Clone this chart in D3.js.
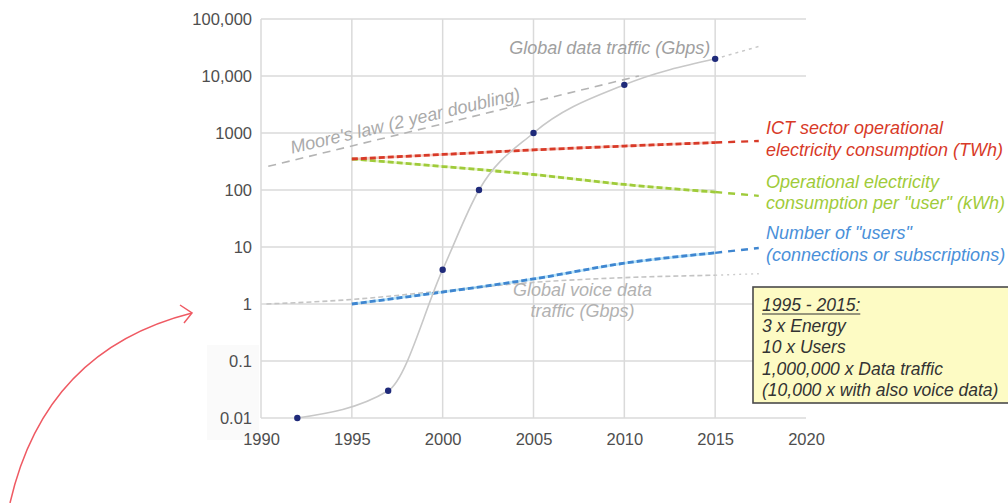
<!DOCTYPE html>
<html>
<head>
<meta charset="utf-8">
<script src="https://cdn.jsdelivr.net/npm/d3@7/dist/d3.min.js"></script>
<style>
  html, body { margin: 0; padding: 0; background: #fff; }
  svg { display: block; }
  text { font-family: "Liberation Sans", Arial, sans-serif; }
</style>
</head>
<body>
<svg id="chart" width="1008" height="503"></svg>
<script>
// ---- data ----
const xTicks = [1990, 1995, 2000, 2005, 2010, 2015, 2020];
const yTicks = [0.01, 0.1, 1, 10, 100, 1000, 10000, 100000];
const yTickLabels = ["0.01", "0.1", "1", "10", "100", "1000", "10,000", "100,000"];

// Global data traffic (Gbps)
const trafficYears = [1992, 1997, 2000, 2002, 2005, 2010, 2015];
const trafficValues = [0.01, 0.03, 4, 100, 1000, 7000, 20000];
const trafficExtYears = [2015, 2017.4];
const trafficExtValues = [20000, 33000];

// Moore's law reference line
const mooreYears = [1990.4, 2010.8];
const mooreValues = [260, 10000];

// Trend series 1995-2015 plus their projections
const trendYears = [1995, 2000, 2005, 2010, 2015];
const extYears = [2015, 2017.4];
const ictEnergy = [350, 420, 505, 590, 680];
const ictEnergyExt = [680, 725];
const energyPerUser = [350, 258, 187, 125, 92];
const energyPerUserExt = [92, 79];
const users = [1.0, 1.62, 2.75, 5.2, 7.9];
const usersExt = [7.9, 9.6];

// Global voice data traffic (Gbps)
const voiceYears = [1990.3, 1995, 2000, 2005, 2010, 2015];
const voiceValues = [1.0, 1.2, 1.7, 2.4, 2.9, 3.2];
const voiceExtValues = [3.2, 3.4];

const summaryLines = ["3 x Energy", "10 x Users", "1,000,000 x Data traffic", "(10,000 x with also voice data)"];

// ---- scales ----
const svg = d3.select("#chart");
const x = d3.scaleLinear().domain([1990, 2020]).range([261, 806]);
const y = d3.scaleLog().domain([0.01, 100000]).range([418, 19]);

const zip = (xs, ys) => xs.map((v, i) => [v, ys[i]]);
const line = d3.line().x(d => x(d[0])).y(d => y(d[1]));

// faint panel behind the lower tick labels
svg.append("rect").attr("x", 207).attr("y", 345).attr("width", 52).attr("height", 95)
  .attr("fill", "#fafafa");

// ---- grid ----
const grid = svg.append("g").attr("stroke", "#dadada").attr("stroke-width", 1.5);
grid.selectAll("line.h").data(yTicks).join("line")
  .attr("x1", x(1990)).attr("x2", x(2020))
  .attr("y1", d => y(d)).attr("y2", d => y(d));
grid.selectAll("line.v").data(xTicks.slice(0, -1)).join("line")
  .attr("x1", d => x(d)).attr("x2", d => x(d))
  .attr("y1", y(100000)).attr("y2", y(0.01));

// white backing for the series labels on the right
svg.append("rect")
  .attr("x", x(2015) + 1).attr("y", 105)
  .attr("width", x(2020) - x(2015) + 4).attr("height", 167)
  .attr("fill", "#fff");

// ---- axes ----
const yAxis = d3.axisLeft(y).tickValues(yTicks)
  .tickFormat((d, i) => yTickLabels[i]).tickSize(0).tickPadding(9);
const gy = svg.append("g").attr("transform", `translate(${x(1990)},0)`).call(yAxis);
const xAxis = d3.axisBottom(x).tickValues(xTicks).tickFormat(d3.format("d")).tickSize(0).tickPadding(15);
const gx = svg.append("g").attr("transform", `translate(0,${y(0.01)})`).call(xAxis);
[gx, gy].forEach(g => {
  g.select(".domain").remove();
  g.selectAll("text").attr("font-size", 16.5).attr("fill", "#4e4e4e")
    .attr("font-family", "'Liberation Sans', Arial, sans-serif");
});

// ---- series ----
// Moore's law
svg.append("path").datum(zip(mooreYears, mooreValues)).attr("d", line)
  .attr("fill", "none").attr("stroke", "#b4b4b4").attr("stroke-width", 1.6)
  .attr("stroke-dasharray", "8,6");

// voice traffic
svg.append("path").datum(zip(voiceYears, voiceValues))
  .attr("d", line.curve(d3.curveMonotoneX))
  .attr("fill", "none").attr("stroke", "#c4c4c4").attr("stroke-width", 1.6)
  .attr("stroke-dasharray", "5,3");
line.curve(d3.curveLinear);
svg.append("path").datum(zip(extYears, voiceExtValues)).attr("d", line)
  .attr("fill", "none").attr("stroke", "#cccccc").attr("stroke-width", 1.4)
  .attr("stroke-dasharray", "2,4");

// trend series
function trend(values, ext, dark, light) {
  const pts = zip(trendYears, values);
  const l = d3.line().x(d => x(d[0])).y(d => y(d[1])).curve(d3.curveMonotoneX);
  svg.append("path").datum(pts).attr("d", l)
    .attr("fill", "none").attr("stroke", light).attr("stroke-width", 2.6).attr("opacity", 0.55);
  svg.append("path").datum(pts).attr("d", l)
    .attr("fill", "none").attr("stroke", dark).attr("stroke-width", 2.8)
    .attr("stroke-dasharray", "6,3");
  svg.append("path").datum(zip(extYears, ext)).attr("d", line)
    .attr("fill", "none").attr("stroke", dark).attr("stroke-width", 2.4)
    .attr("stroke-dasharray", "7,6");
}
trend(energyPerUser, energyPerUserExt, "#9fcb3a", "#d6ea9a");
trend(ictEnergy, ictEnergyExt, "#d83a28", "#f0a090");
trend(users, usersExt, "#3f86d0", "#7fd0f5");

// data traffic curve + projection
svg.append("path").datum(zip(trafficYears, trafficValues))
  .attr("d", d3.line().x(d => x(d[0])).y(d => y(d[1])).curve(d3.curveMonotoneX))
  .attr("fill", "none").attr("stroke", "#c8c8c8").attr("stroke-width", 1.6);
svg.append("path").datum(zip(trafficExtYears, trafficExtValues)).attr("d", line)
  .attr("fill", "none").attr("stroke", "#c8c8c8").attr("stroke-width", 1.5)
  .attr("stroke-dasharray", "3,4");
svg.selectAll("circle.pt").data(zip(trafficYears, trafficValues)).join("circle")
  .attr("cx", d => x(d[0])).attr("cy", d => y(d[1])).attr("r", 3.2)
  .attr("fill", "#1f2a7a");

// ---- labels ----
const label = (tx, ty, str, color, anchor) => svg.append("text")
  .attr("x", tx).attr("y", ty).text(str)
  .attr("font-size", 18).attr("font-style", "italic").attr("fill", color)
  .attr("text-anchor", anchor || "start");

label(x(2009.2), 54, "Global data traffic (Gbps)", "#a0a0a0", "middle");
svg.append("text")
  .attr("transform", `translate(${x(1991.7)},${y(300) - 9}) rotate(-13.3)`)
  .text("Moore's law (2 year doubling)")
  .attr("font-size", 18).attr("font-style", "italic").attr("fill", "#aaaaaa");
label(x(2007.7), y(3.2) + 21, "Global voice data", "#b2b2b2", "middle");
label(x(2007.7), y(3.2) + 42, "traffic (Gbps)", "#b2b2b2", "middle");

const lx = x(2017.8);
const endY = v => y(v);
label(lx, endY(ictEnergyExt[1]) - 7, "ICT sector operational", "#d83a28");
label(lx, endY(ictEnergyExt[1]) + 15, "electricity consumption (TWh)", "#d83a28");
label(lx, endY(energyPerUserExt[1]) - 8, "Operational electricity", "#9fcb3a");
label(lx, endY(energyPerUserExt[1]) + 13, "consumption per \"user\" (kWh)", "#9fcb3a");
label(lx, endY(usersExt[1]) - 9, "Number of \"users\"", "#4a90d9");
label(lx, endY(usersExt[1]) + 13, "(connections or subscriptions)", "#4a90d9");

// summary box
svg.append("rect").attr("x", 753).attr("y", 287).attr("width", 270).attr("height", 116)
  .attr("fill", "#fdfbc4").attr("stroke", "#4a4a4a").attr("stroke-width", 1.6);
const head = svg.append("text").attr("x", 762).attr("y", 311).text("1995 - 2015:")
  .attr("font-size", 17.5).attr("font-style", "italic").attr("fill", "#333");
const hw = head.node().getComputedTextLength();
svg.append("line").attr("x1", 762).attr("x2", 762 + hw).attr("y1", 314).attr("y2", 314)
  .attr("stroke", "#333").attr("stroke-width", 1.1);
svg.selectAll("text.sum").data(summaryLines).join("text")
  .attr("x", 762).attr("y", (d, i) => 332 + i * 21.3).text(d => d)
  .attr("font-size", 17.5).attr("font-style", "italic").attr("fill", "#333");

// red pointer arrow
svg.append("path").attr("d", "M10,503 Q45,350 192,313")
  .attr("fill", "none").attr("stroke", "#ef5a63").attr("stroke-width", 1.5);
svg.append("path").attr("d", "M180,305 L192,313 L184,323")
  .attr("fill", "none").attr("stroke", "#ef5a63").attr("stroke-width", 1.5);
</script>
</body>
</html>
